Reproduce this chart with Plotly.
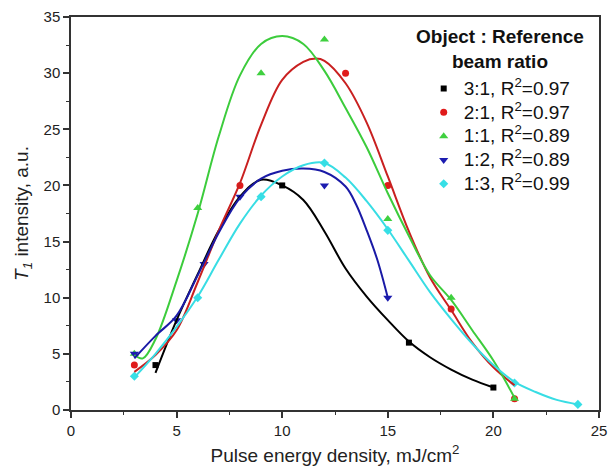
import plotly.graph_objects as go

# Measured points: object:reference beam ratio series
black_x = [4, 10, 16, 20]
black_y = [4, 20, 6, 2]
red_x = [3, 8, 13, 15, 18, 21]
red_y = [4, 20, 30, 20, 9, 1]
green_x = [3, 6, 9, 12, 15, 18, 21]
green_y = [5, 18, 30, 33, 17, 10, 1]
blue_x = [3, 5, 6.3, 8, 12, 15]
blue_y = [5, 8, 13, 19, 20, 10]
cyan_x = [3, 6, 9, 12, 15, 21, 24]
cyan_y = [3, 10, 19, 22, 16, 2.4, 0.5]

# Fitted curves, sampled along x
black_fit_x = [4, 5, 6, 7, 8, 9, 10, 11, 12, 13, 14, 15, 16, 17, 18, 19, 20]
black_fit_y = [3.3, 8.0, 12.1, 16.0, 19.0, 20.5, 20.0, 18.7, 15.9, 12.6, 10.1, 8.0, 6.1, 4.7, 3.6, 2.7, 2.0]
red_fit_x = [3, 4, 5, 6, 7, 8, 9, 10, 11, 11.6, 12, 13, 14, 15, 16, 17, 18, 19, 20, 21]
red_fit_y = [3.4, 4.9, 7.1, 11.4, 16.0, 20.2, 25.4, 29.4, 31.0, 31.3, 31.1, 29.1, 25.6, 20.8, 15.9, 11.8, 8.9, 6.0, 3.8, 2.2]
green_fit_x = [3, 3.4, 4, 5, 6, 7, 8, 9, 10, 11, 12, 13, 14, 15, 16, 17, 18, 19, 20, 21]
green_fit_y = [4.9, 4.6, 6.3, 11.5, 17.5, 24.4, 29.8, 32.6, 33.3, 32.6, 30.2, 26.9, 23.4, 19.3, 15.5, 12.0, 9.8, 7.1, 4.4, 1.1]
blue_fit_x = [3, 4, 5, 6, 7, 8, 9, 10, 11, 12, 13, 13.5, 14, 14.5, 15]
blue_fit_y = [4.6, 6.6, 8.4, 12.0, 15.8, 18.9, 20.6, 21.3, 21.5, 21.2, 19.9, 18.3, 16.0, 13.4, 10.0]
cyan_fit_x = [3, 4, 5, 6, 7, 8, 9, 10, 11, 12, 13, 14, 15, 16, 17, 18, 19, 20, 21, 22, 23, 24]
cyan_fit_y = [2.9, 5.0, 7.4, 10.1, 13.4, 16.6, 19.1, 20.8, 21.8, 22.0, 20.7, 18.6, 16.1, 13.3, 10.5, 8.1, 5.9, 4.0, 2.5, 1.6, 0.9, 0.5]

labels = ["3:1, R<sup>2</sup>=0.97", "2:1, R<sup>2</sup>=0.97", "1:1, R<sup>2</sup>=0.89",
          "1:2, R<sup>2</sup>=0.89", "1:3, R<sup>2</sup>=0.99"]
colors = ["#000000", "#e01b1b", "#3fd03f", "#1c1cb0", "#36dfe6"]
line_colors = ["#000000", "#c92020", "#3ccc3c", "#1a1aa6", "#38dde4"]
symbols = ["square", "circle", "triangle-up", "triangle-down", "diamond"]
sizes = [6, 7, 8, 8, 7]

points = [(black_x, black_y), (red_x, red_y), (green_x, green_y), (blue_x, blue_y), (cyan_x, cyan_y)]
fits = [(black_fit_x, black_fit_y), (red_fit_x, red_fit_y), (green_fit_x, green_fit_y),
        (blue_fit_x, blue_fit_y), (cyan_fit_x, cyan_fit_y)]

fig = go.Figure()
for (px, py), lab, c, s, sz in zip(points, labels, colors, symbols, sizes):
    fig.add_trace(go.Scatter(x=px, y=py, mode="markers",
                             name='<span style="font-size:19px">' + lab + "</span>",
                             marker=dict(symbol=s, size=sz, color=c, line=dict(width=0))))
for (fx, fy), c in zip(fits, line_colors):
    fig.add_trace(go.Scatter(x=fx, y=fy, mode="lines", showlegend=False,
                             line=dict(color=c, width=2, shape="spline", smoothing=1.0),
                             hoverinfo="skip"))

font_family = "Liberation Sans, Arial, sans-serif"
axis_common = dict(showline=True, linecolor="#333333", linewidth=1.5, mirror=True,
                   ticks="outside", ticklen=6, tickwidth=1.5, tickcolor="#333333",
                   showgrid=False, zeroline=False,
                   tickfont=dict(family=font_family, size=15, color="#222222"),
                   minor=dict(ticks="outside", ticklen=3, tickwidth=1.2, tickcolor="#333333", dtick=2.5))

fig.update_xaxes(range=[0, 25], dtick=5, tick0=0,
                 title=dict(text="Pulse energy density, mJ/cm<sup>2</sup>",
                            font=dict(family=font_family, size=19, color="#222222"), standoff=11),
                 **axis_common)
fig.update_yaxes(range=[0, 35], dtick=5, tick0=0,
                 title=dict(text="<i>T<sub>1</sub></i> intensity, a.u.",
                            font=dict(family=font_family, size=19, color="#222222"), standoff=10),
                 **axis_common)

# Legend heading
fig.add_annotation(text="<b>Object : Reference<br>beam ratio</b>", xref="paper", yref="paper",
                   x=0.812, y=0.982, xanchor="center", yanchor="top", showarrow=False,
                   align="center", font=dict(family=font_family, size=19, color="#111111"))

fig.update_layout(
    width=615, height=475,
    margin=dict(l=71, r=8, t=14, b=65),
    plot_bgcolor="white", paper_bgcolor="white",
    font=dict(family=font_family, color="#111111"),
    legend=dict(x=0.668, y=0.861, xanchor="left", yanchor="top",
                bgcolor="rgba(0,0,0,0)", borderwidth=0,
                font=dict(family=font_family, size=16, color="#111111")),
)

fig.write_html("out.html")
